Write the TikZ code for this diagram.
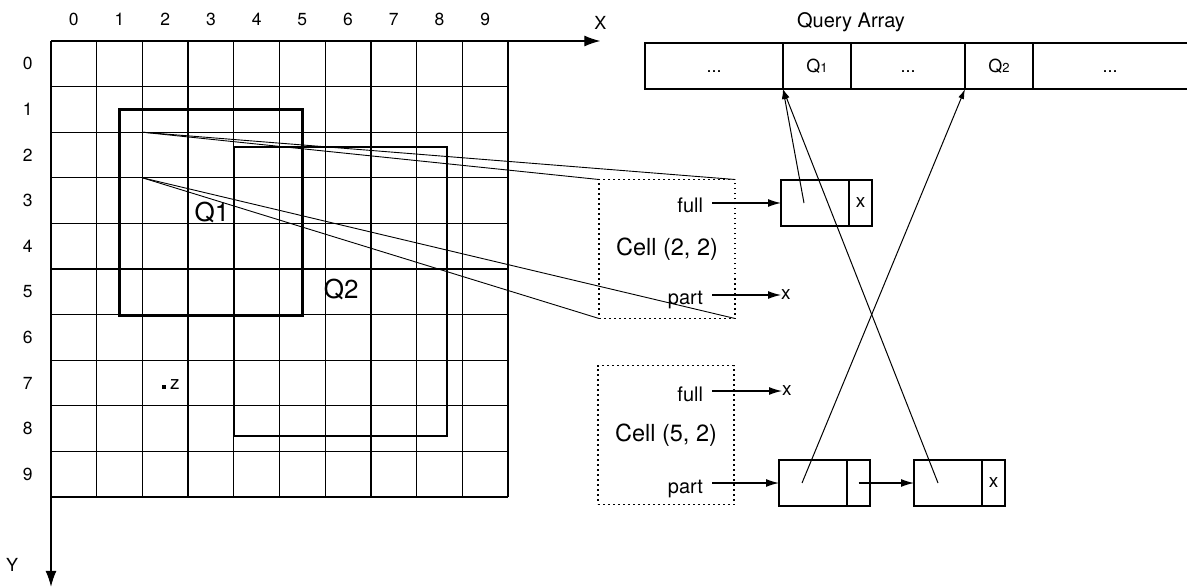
\documentclass[tikz,border=0pt]{standalone}
\usepackage{fontspec}
\setmainfont{TeX Gyre Heros}
\usetikzlibrary{arrows.meta,positioning}

\begin{document}
\begin{tikzpicture}[x=1pt,y=-1pt,
  gridline/.style={line width=1.3pt},
  qrect/.style={line width=2.5pt},
  axis/.style={line width=1.2pt,-{Latex[length=16pt,width=11pt]}},
  digit/.style={font=\fontsize{17.5}{17.5}\selectfont},
  axlbl/.style={font=\fontsize{18}{18}\selectfont},
  qlabel/.style={font=\fontsize{26}{26}\selectfont},
  slot/.style={draw,line width=2pt,minimum height=46pt,inner sep=0pt,outer sep=0pt,
    text height=13pt,text depth=0pt,font=\fontsize{18}{18}\selectfont},
  cellbox/.style={draw,line width=1.8pt,dash pattern=on 1.8pt off 3.2pt,
    minimum width=136pt,minimum height=139pt,outer sep=0pt,font=\fontsize{23.5}{23.5}\selectfont},
  lbl/.style={font=\fontsize{20}{20}\selectfont,inner ysep=0pt,inner xsep=9pt,outer sep=0pt,
    text height=20pt,text depth=0pt,anchor=east},
  xlbl/.style={font=\fontsize{19}{19}\selectfont,inner sep=0pt,anchor=west},
  lmain/.style={draw,line width=1.8pt,minimum width=68pt,minimum height=46pt,inner sep=0pt,outer sep=0pt},
  lptr/.style={lmain,minimum width=23pt,font=\fontsize{19}{19}\selectfont},
  ptr/.style={line width=1.2pt,-{Latex[length=13pt,width=8pt]}},
  qptr/.style={line width=1pt,-{Latex[length=10pt,width=6pt]}},
  projline/.style={line width=0.9pt}]
\useasboundingbox (0,0) rectangle (1187,588);

% the grid of cells
\begin{scope}[shift={(51,41)},x=45.7pt,y=-45.6pt]
  \foreach \i in {0,...,10} {
    \draw[gridline] (\i,0) -- (\i,10);
    \draw[gridline] (0,\i) -- (10,\i);
  }
  \foreach \i in {0,...,9} {
    \node[digit] (col\i) at (\i+0.5,-0.48) {\i};
    \node[digit] (row\i) at (-0.51,\i+0.5) {\i};
  }
  \coordinate (origin) at (0,0);
  \coordinate (xend) at (12.02,0);
  \coordinate (yend) at (0,11.97);
  \draw[axis] (origin) -- (xend);
  \draw[axis] (origin) -- (yend);
  \node[axlbl] (xlab) at (12.02,-0.39) {X};
  \node[axlbl] (ylab) at (-0.85,11.49) {Y};
  % query regions
  \draw[qrect] (1.5,1.5) rectangle (5.5,6.02);
  \draw[qrect] (4,2.33) rectangle (8.67,8.66);
  \node[qlabel] (q1lab) at (3.52,3.77) {Q1};
  \node[qlabel] (q2lab) at (6.35,5.44) {Q2};
  \fill (2.43,7.54) rectangle (2.52,7.63);
  \node[xlbl] (zlab) at (2.6,7.53) {z};
  \coordinate (c22a) at (2,2);
  \coordinate (c22b) at (2,3);
\end{scope}

% query array
\node[font=\fontsize{20}{20}\selectfont] (qtitle) at (851,22) {Query Array};
\node[slot,minimum width=138pt] (s0) at (714,66) {...};
\node[slot,minimum width=68pt,right=0pt of s0] (sq1) {Q{\fontsize{13}{13}\selectfont 1}};
\node[slot,minimum width=114pt,right=0pt of sq1] (s2) {...};
\node[slot,minimum width=68pt,right=0pt of s2] (sq2) {Q{\fontsize{13}{13}\selectfont 2}};
\node[slot,draw=none,minimum width=154pt,right=0pt of sq2] (s4) {...};
\draw[line width=2pt] (s4.north west) -- (s4.north east) (s4.south west) -- (s4.south east);

% cell (2, 2)
\node[cellbox] (box22) at (667,249) {Cell (2, 2)};
\draw[projline] (c22a) -- (box22.north west);
\draw[projline] (c22a) -- (box22.north east);
\draw[projline] (c22b) -- (box22.south west);
\draw[projline] (c22b) -- (box22.south east);
\node[lbl] (full22) at (712,203) {full};
\node[lbl] (part22) at (712,295) {part};
\node[xlbl] (px22) at (781,295) {x};
\node[lmain] (fn1) at (815,203) {};
\node[lptr,right=0pt of fn1] (fx1) {x};
\draw[ptr] (full22.east) -- (fn1.west);
\draw[ptr] (part22.east) -- (px22.west);

% cell (5, 2)
\node[cellbox] (box52) at (666,435) {Cell (5, 2)};
\node[lbl] (full52) at (712,391) {full};
\node[xlbl] (fx52) at (782,391) {x};
\node[lbl] (part52) at (712,483) {part};
\node[lmain] (pn1) at (813,483) {};
\node[lptr,right=0pt of pn1] (pp1) {};
\node[lmain] (pn2) at (948,483) {};
\node[lptr,right=0pt of pn2] (px2) {x};
\draw[ptr] (full52.east) -- (fx52.west);
\draw[ptr] (part52.east) -- (pn1.west);
\draw[ptr] (pp1.center) -- (pn2.west);

% pointers into the query array
\draw[qptr] ([xshift=-11pt]fn1.center) -- (sq1.south west);
\draw[qptr] ([xshift=-10pt]pn2.center) -- (sq1.south west);
\draw[qptr] ([xshift=-11pt]pn1.center) -- (sq2.south west);
\end{tikzpicture}
\end{document}
